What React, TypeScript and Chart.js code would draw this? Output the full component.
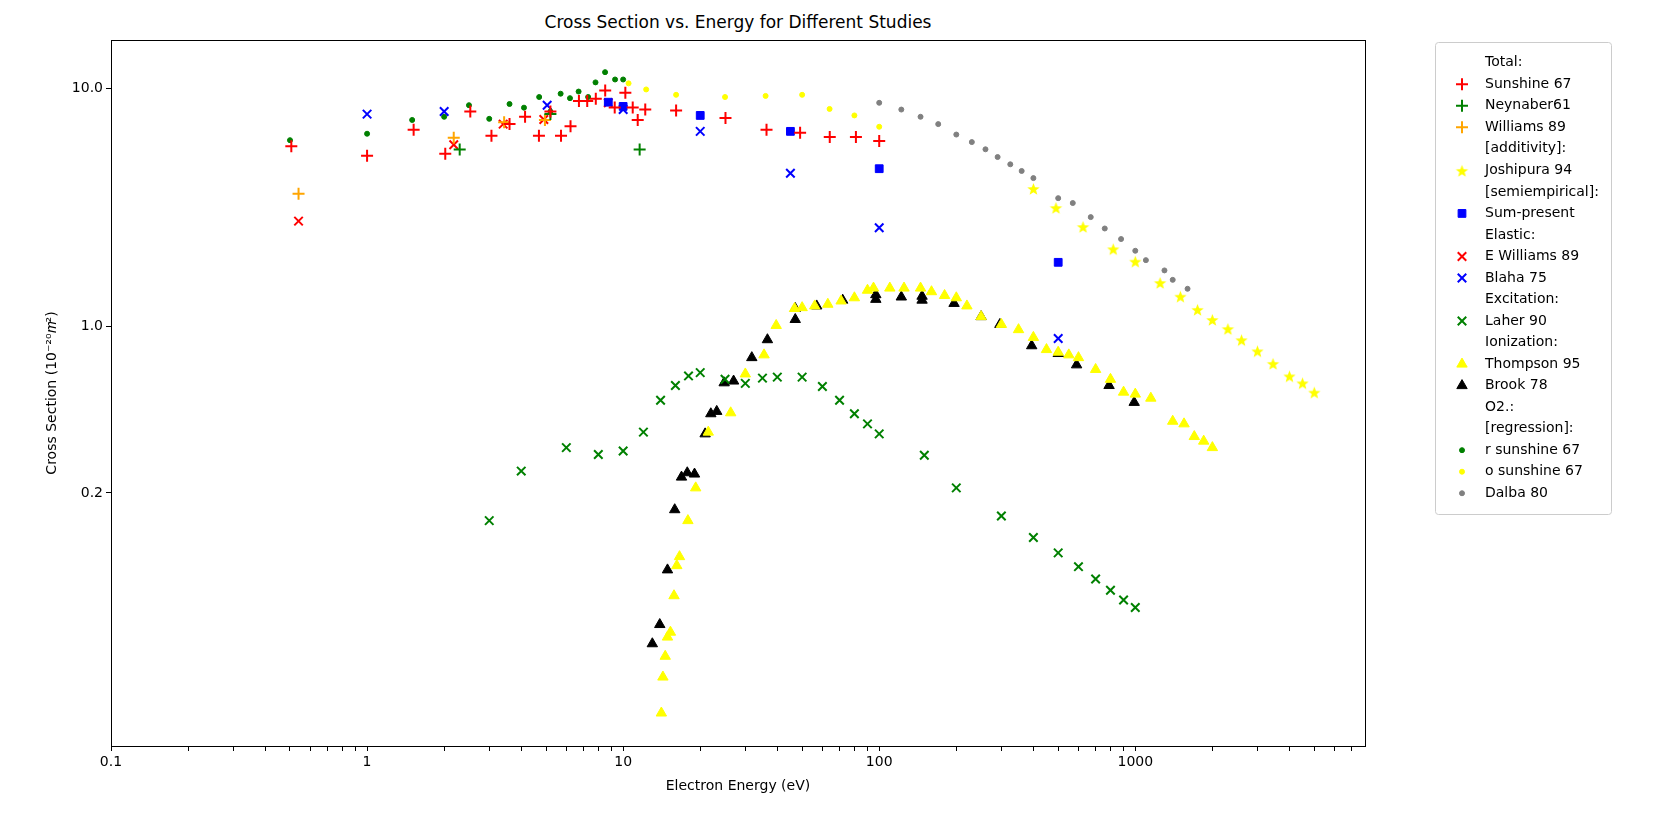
import React, { useEffect, useRef } from "react";
import { Chart, registerables } from "chart.js";
import { drawPoint } from "chart.js/helpers";
Chart.register(...registerables);

const sunshineX = [0.506,1.0,1.52,2.02,2.53,3.06,3.6,4.14,4.69,5.2,5.72,6.23,6.72,7.24,7.82,8.51,9.27,10.2,10.9,11.4,12.2,16.1,25.1,36.3,49.1,64.1,81.1,100];
const sunshineY = [5.71,5.21,6.71,5.32,8.0,6.32,7.08,7.6,6.32,8.0,6.32,6.93,8.85,8.85,9.04,9.8,8.32,9.6,8.32,7.36,8.16,8.07,7.52,6.71,6.52,6.25,6.25,6.01];
const neynaberX = [2.3,5.2,11.6];
const neynaberY = [5.54,7.8,5.54];
const williamsX = [0.54,2.18,3.43,4.95];
const williamsY = [3.61,6.2,7.2,7.36];
const joshX = [400,490,625,820,1000,1250,1500,1750,2000,2300,2600,3000,3450,4000,4500,5000];
const joshY = [3.8,3.16,2.63,2.12,1.88,1.53,1.34,1.18,1.07,0.98,0.88,0.79,0.70,0.62,0.58,0.53];
const sumX = [8.75,10,20,45,100,500];
const sumY = [8.75,8.4,7.7,6.6,4.6,1.86];
const ewX = [0.54,2.18,3.4,4.9,8.75];
const ewY = [2.77,5.8,7.08,7.4,8.7];
const blahaX = [1.0,2.0,5.05,10,20,45,100,500];
const blahaY = [7.8,8.0,8.5,8.16,6.6,4.4,2.6,0.89];
const laherX = [3,4,6,8,10,12,14,16,18,20,25,30,35,40,50,60,70,80,90,100,150,200,300,400,500,600,700,800,900,1000];
const laherY = [0.153,0.247,0.31,0.29,0.30,0.36,0.49,0.565,0.62,0.64,0.6,0.577,0.607,0.613,0.613,0.56,0.49,0.43,0.39,0.354,0.288,0.21,0.16,0.13,0.112,0.098,0.087,0.078,0.071,0.066];
const thompX = [14.1,14.3,14.6,14.9,15.3,15.8,16.2,16.6,17.9,19.2,21.5,26.3,30,35.5,39.6,46.7,50,56,63,71,80,90,95,110,125,145,160,180,200,220,250,300,350,400,450,500,550,600,700,800,900,1000,1150,1400,1550,1700,1850,2000];
const thompY = [0.0238,0.0337,0.0412,0.0496,0.052,0.074,0.099,0.108,0.153,0.21,0.36,0.434,0.632,0.76,1.01,1.19,1.2,1.22,1.24,1.28,1.32,1.42,1.45,1.45,1.45,1.45,1.40,1.35,1.32,1.22,1.1,1.02,0.97,0.90,0.80,0.78,0.76,0.74,0.66,0.60,0.53,0.52,0.50,0.40,0.39,0.345,0.33,0.31];
const brookX = [13.0,13.9,14.9,15.9,16.9,17.8,19,20.9,22,23.2,24.8,27,31.8,36.6,47,47,57,72,97,97,122,147,147,196,250,296,394,500,590,790,990];
const brookY = [0.0465,0.056,0.095,0.17,0.233,0.243,0.24,0.354,0.43,0.44,0.58,0.59,0.74,0.88,1.07,1.19,1.22,1.29,1.3,1.36,1.33,1.29,1.34,1.25,1.1,1.02,0.83,0.77,0.69,0.565,0.48];
const rsunX = [0.5,1.0,1.5,2.0,2.5,3.0,3.6,4.1,4.7,5.2,5.7,6.2,6.7,7.3,7.8,8.5,9.3,10];
const rsunY = [6.06,6.45,7.37,7.6,8.5,7.45,8.6,8.3,9.2,8.0,9.5,9.1,9.7,9.2,10.6,11.7,10.9,10.9];
const osunX = [10.5,12.3,16.1,25,36,50,64,80,100];
const osunY = [10.5,9.9,9.4,9.2,9.3,9.4,8.2,7.7,6.9];
const dalbaX = [100,122,145,170,200,230,260,290,325,360,400,500,570,670,760,880,1000,1100,1300,1400,1600];
const dalbaY = [8.7,8.15,7.6,7.08,6.4,5.95,5.55,5.15,4.8,4.5,4.2,3.46,3.3,2.88,2.58,2.33,2.08,1.9,1.72,1.57,1.44];

type S = { label: string; x?: number[]; y?: number[]; style?: string; color?: string; r?: number };
const series: S[] = [
  { label: "Total:" },
  { label: "Sunshine 67", x: sunshineX, y: sunshineY, style: "cross", color: "red", r: 6 },
  { label: "Neynaber61", x: neynaberX, y: neynaberY, style: "cross", color: "green", r: 6 },
  { label: "Williams 89", x: williamsX, y: williamsY, style: "cross", color: "orange", r: 6 },
  { label: "[additivity]:" },
  { label: "Joshipura 94", x: joshX, y: joshY, style: "starFill", color: "yellow" },
  { label: "[semiempirical]:" },
  { label: "Sum-present", x: sumX, y: sumY, style: "rect", color: "blue", r: 5.5 },
  { label: "Elastic:" },
  { label: "E Williams 89", x: ewX, y: ewY, style: "crossRot", color: "red", r: 6 },
  { label: "Blaha 75", x: blahaX, y: blahaY, style: "crossRot", color: "blue", r: 6 },
  { label: "Excitation:" },
  { label: "Laher 90", x: laherX, y: laherY, style: "crossRot", color: "green", r: 6 },
  { label: "Ionization:" },
  { label: "Thompson 95", x: thompX, y: thompY, style: "triangle", color: "yellow", r: 6 },
  { label: "Brook 78", x: brookX, y: brookY, style: "triangle", color: "black", r: 6 },
  { label: "O2.:" },
  { label: "[regression]:" },
  { label: "r sunshine 67", x: rsunX, y: rsunY, style: "circle", color: "green", r: 2.5 },
  { label: "o sunshine 67", x: osunX, y: osunY, style: "circle", color: "yellow", r: 2.5 },
  { label: "Dalba 80", x: dalbaX, y: dalbaY, style: "circle", color: "gray", r: 2.5 },
];

const legendBox = { l: 1435, t: 42, r: 1611, b: 514 };

function makeStar(color: string, R: number) {
  const c = document.createElement("canvas");
  const s = Math.ceil(R * 2 + 2);
  c.width = s; c.height = s;
  const g = c.getContext("2d")!;
  g.fillStyle = color;
  g.beginPath();
  for (let i = 0; i < 10; i++) {
    const rr = i % 2 === 0 ? R : R * 0.42;
    const a = -Math.PI / 2 + (i * Math.PI) / 5;
    const px = s / 2 + rr * Math.cos(a), py = s / 2 + 1 + rr * Math.sin(a);
    i === 0 ? g.moveTo(px, py) : g.lineTo(px, py);
  }
  g.closePath();
  g.fill();
  return c;
}

export default function App() {
  const ref = useRef<HTMLCanvasElement>(null);
  useEffect(() => {
    const font = "'DejaVu Sans', sans-serif";
    const star = makeStar("yellow", 6.5);
    const datasets = series.filter(s => s.x).map(s => ({
      label: s.label,
      data: s.x!.map((v, i) => ({ x: v, y: s.y![i] })),
      pointStyle: (s.style === "starFill" ? star : s.style) as any,
      pointRadius: s.r ?? 5,
      borderColor: s.color,
      backgroundColor: s.color,
      borderWidth: s.style === "cross" || s.style === "crossRot" ? 2 : 1,
      showLine: false,
    }));
    const legendPlugin = {
      id: "mplLegend",
      afterDraw(chart: any) {
        const ctx = chart.ctx as CanvasRenderingContext2D;
        const ca = chart.chartArea;
        ctx.save();
        ctx.strokeStyle = "#000";
        ctx.lineWidth = 1;
        ctx.strokeRect(Math.round(ca.left) + 0.5, Math.round(ca.top) + 0.5, Math.round(ca.right - ca.left), Math.round(ca.bottom - ca.top));
        ctx.strokeStyle = "#ccc";
        ctx.beginPath();
        (ctx as any).roundRect(legendBox.l + 0.5, legendBox.t + 0.5, legendBox.r - legendBox.l, legendBox.b - legendBox.t, 3);
        ctx.stroke();
        ctx.font = `14px ${font}`;
        ctx.textBaseline = "middle";
        const step = (legendBox.b - legendBox.t - 20) / series.length;
        series.forEach((s, i) => {
          const y = legendBox.t + 10 + step * (i + 0.5);
          if (s.style) {
            ctx.fillStyle = s.color!;
            ctx.strokeStyle = s.color!;
            ctx.lineWidth = s.style.startsWith("cross") ? 2 : 1;
            const ps = s.style === "starFill" ? star : s.style;
            drawPoint(ctx, { pointStyle: ps as any, radius: s.r ?? 5, rotation: 0, borderWidth: ctx.lineWidth } as any, legendBox.l + 27, y);
          }
          ctx.fillStyle = "#000";
          ctx.fillText(s.label, legendBox.l + 50, y);
        });
        ctx.restore();
      },
    };
    const majors = [0.1, 1, 10, 100, 1000];
    const chart = new Chart(ref.current!, {
      type: "scatter",
      data: { datasets },
      plugins: [legendPlugin],
      options: {
        animation: false,
        responsive: false,
        layout: { padding: { top: 40, right: 290, left: 40, bottom: 22 } },
        plugins: { legend: { display: false }, tooltip: { enabled: false } },
        scales: {
          x: {
            type: "logarithmic", min: 0.1, max: 7890,
            grid: { drawOnChartArea: false, color: "#000", tickLength: 5 },
            border: { color: "#000" },
            afterBuildTicks: (sc: any) => {
              const t: any[] = [];
              for (let e = -1; e <= 3; e++) for (let m = 1; m <= 9; m++) { const v = m * Math.pow(10, e); if (v <= 7890) t.push({ value: v }); }
              sc.ticks = t;
            },
            afterFit: (sc: any) => { sc.height = 53; },
            ticks: { color: "#000", font: { family: font, size: 14 }, maxRotation: 0, autoSkip: false,
              callback: (v: any) => majors.some(m => Math.abs(m - v) < 1e-9) ? String(v) : "" },
            title: { display: true, text: "Electron Energy (eV)", color: "#000", font: { family: font, size: 14 } },
          },
          y: {
            type: "logarithmic", min: 0.0173, max: 15.97,
            grid: { drawOnChartArea: false, color: "#000", tickLength: 5 },
            border: { color: "#000" },
            afterBuildTicks: (sc: any) => { sc.ticks = [{ value: 0.2 }, { value: 1 }, { value: 10 }]; },
            afterFit: (sc: any) => { sc.width = 71; },
            ticks: { color: "#000", font: { family: font, size: 14 }, callback: (v: any) => Number(v).toFixed(1) },
            title: { display: true, text: "Cross Section (10⁻²⁰𝑚²)", color: "#000", font: { family: font, size: 14 } },
          },
        },
      },
    });
    return () => chart.destroy();
  }, []);
  return (
    <div style={{ position: "fixed", left: 0, top: 0, width: 1655, height: 821, background: "#fff" }}>
      <div style={{ position: "absolute", left: 111, width: 1254, top: 12, textAlign: "center", fontFamily: "'DejaVu Sans', sans-serif", fontSize: 17 }}>
        Cross Section vs. Energy for Different Studies
      </div>
      <canvas ref={ref} width={1655} height={821} style={{ position: "absolute", left: 0, top: 0 }} />
    </div>
  );
}
